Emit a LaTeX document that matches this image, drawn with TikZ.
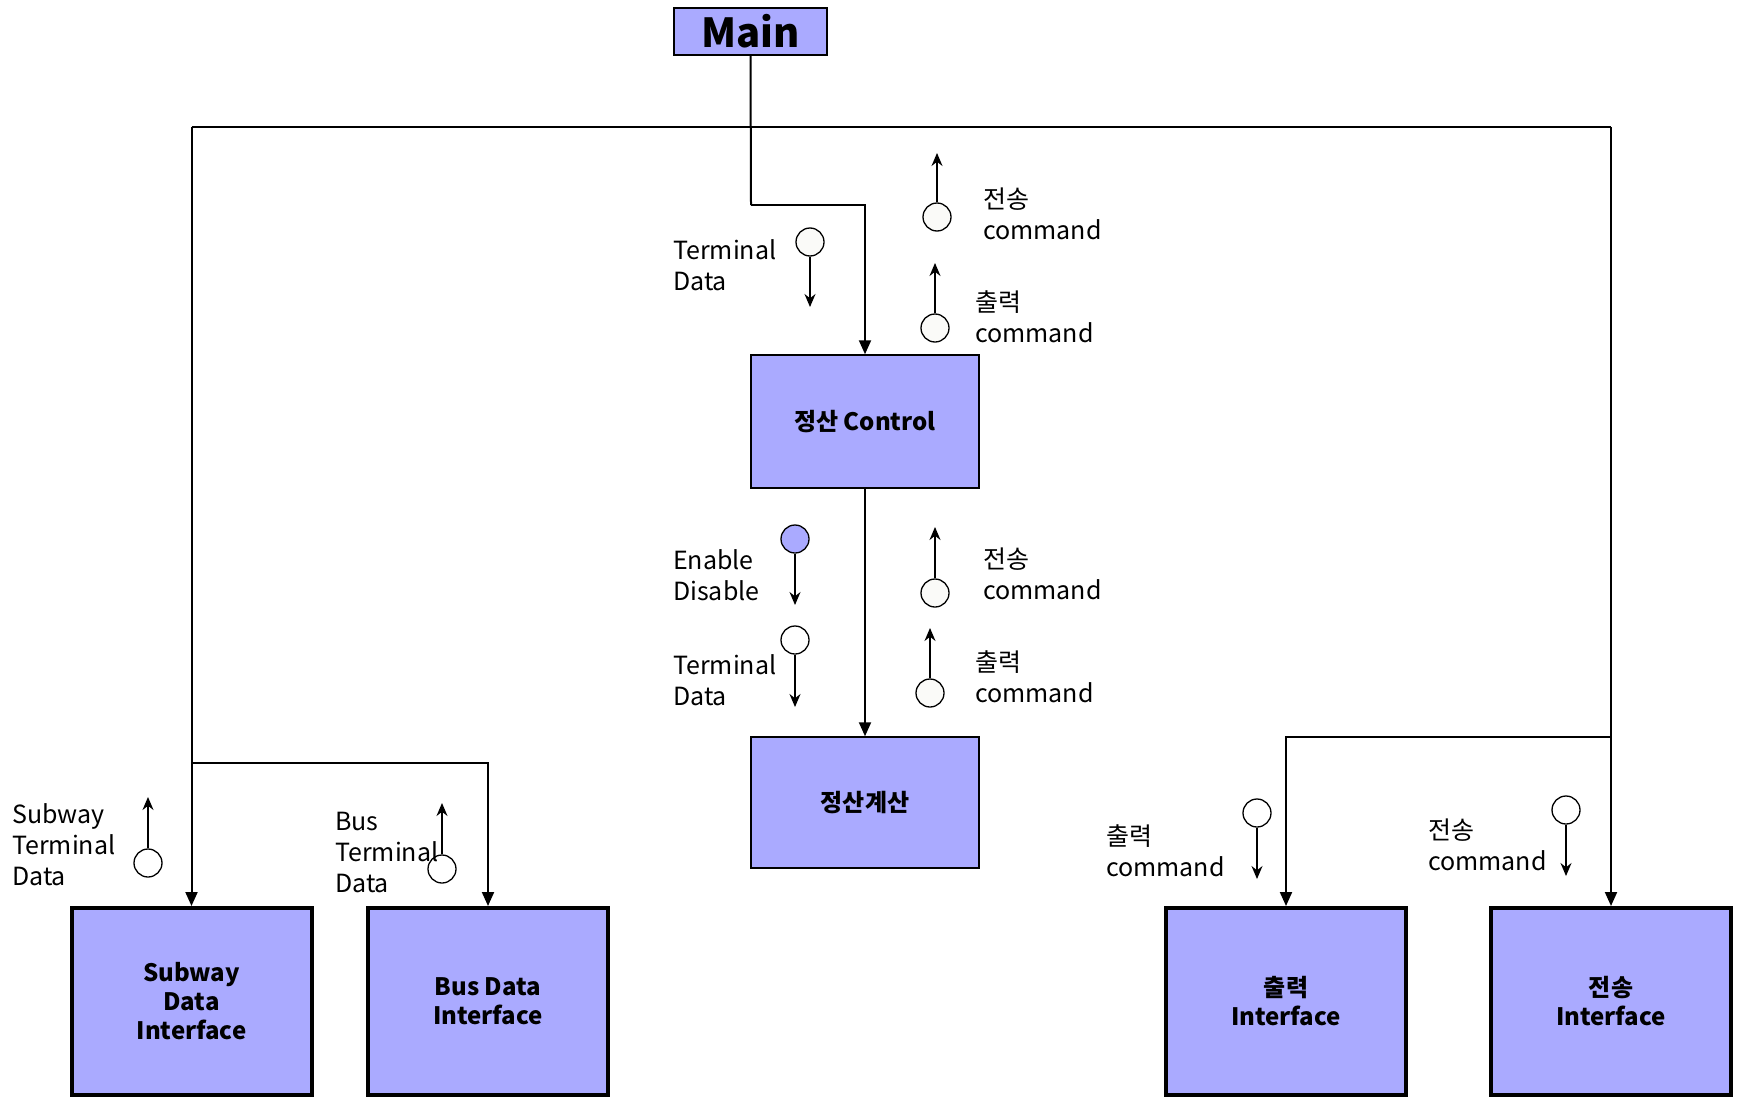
\documentclass[tikz,border=0pt]{standalone}
\usepackage{fontspec}
\setmainfont{Noto Sans CJK KR}
\usetikzlibrary{arrows.meta}

\definecolor{boxblue}{RGB}{170,170,255}
\definecolor{flagwhite}{RGB}{250,250,248}

\tikzset{
  box/.style={draw, fill=boxblue, line width=1.5pt, align=center, inner sep=0,
    font=\bfseries\fontsize{24}{29}\selectfont},
  midbox/.style={box, minimum width=228pt, minimum height=133pt},
  ifbox/.style={box, line width=4pt, minimum width=240pt, minimum height=187pt},
  flow/.style={line width=2pt, -{Triangle[length=14pt,width=12pt]}},
  flag/.style={circle, draw, line width=1.3pt, fill=flagwhite, minimum size=28pt, inner sep=0},
  flagarrow/.style={line width=1.3pt, -{Stealth[length=13pt,width=11pt]}},
  lbl/.style={anchor=west, align=left, inner sep=0, font=\fontsize{25}{31}\selectfont},
}

\begin{document}
\begin{tikzpicture}[x=1pt,y=-1pt]
\useasboundingbox (0,0) rectangle (1739,1097);
\clip (0,0) rectangle (1739,1097);

% modules
\node[box, minimum width=153pt, minimum height=47pt, font=\bfseries\fontsize{40}{44}\selectfont] (main) at (750.5,31.5) {Main};
\node[midbox] (ctrl) at (865,421.5) {정산 Control};
\node[midbox, minimum height=131pt] (calc) at (865,802.5) {정산계산};
\node[ifbox] (subway) at (191.5,1001.5) {Subway\\Data\\Interface};
\node[ifbox] (busif) at (488,1001.5) {Bus Data\\Interface};
\node[ifbox] (pcif) at (1286,1001.5) {출력\\Interface};
\node[ifbox] (txif) at (1611,1001.5) {전송\\Interface};

% call lines
\coordinate (topline) at (751,127);
\coordinate (jog) at (751,205);
\coordinate (leftsplit) at (191,763);
\coordinate (rightsplit) at (1611,737);
\draw[line width=2pt] (main.south) -- (jog);
\draw[flow] (jog) -| (ctrl.north);
\draw[line width=2pt] (subway.north |- topline) -- (txif.north |- topline);
\draw[flow] (subway.north |- topline) -- (subway.north);
\draw[flow] (txif.north |- topline) -- (txif.north);
\draw[flow] (subway.north |- leftsplit) -| (busif.north);
\draw[flow] (txif.north |- rightsplit) -| (pcif.north);
\draw[flow] (ctrl.south) -- (calc.north);

% data flags
\node[flag] (td1) at (810,242) {};
\coordinate (td1e) at (810,307);
\draw[flagarrow] (td1) -- (td1e);
\node[flag] (sc1) at (937,217) {};
\coordinate (sc1e) at (937,153);
\draw[flagarrow] (sc1) -- (sc1e);
\node[flag] (pc1) at (935,328) {};
\coordinate (pc1e) at (935,263);
\draw[flagarrow] (pc1) -- (pc1e);
\node[flag, fill=boxblue] (en) at (795,539) {};
\coordinate (ene) at (795,605);
\draw[flagarrow] (en) -- (ene);
\node[flag, fill=white] (td2) at (795,640) {};
\coordinate (td2e) at (795,707);
\draw[flagarrow] (td2) -- (td2e);
\node[flag] (sc2) at (935,593) {};
\coordinate (sc2e) at (935,527);
\draw[flagarrow] (sc2) -- (sc2e);
\node[flag] (pc2) at (930,693) {};
\coordinate (pc2e) at (930,628);
\draw[flagarrow] (pc2) -- (pc2e);
\node[flag, fill=white] (std) at (148,863) {};
\coordinate (stde) at (148,797);
\draw[flagarrow] (std) -- (stde);
\node[flag, fill=white] (btd) at (442,869) {};
\coordinate (btde) at (442,803);
\draw[flagarrow] (btd) -- (btde);
\node[flag, fill=white] (pc3) at (1257,813) {};
\coordinate (pc3e) at (1257,879);
\draw[flagarrow] (pc3) -- (pc3e);
\node[flag, fill=white] (sc3) at (1566,810) {};
\coordinate (sc3e) at (1566,876);
\draw[flagarrow] (sc3) -- (sc3e);

% flag labels
\node[lbl] (td1l) at (673,265) {Terminal\\Data};
\node[lbl] (sc1l) at (983,214) {전송\\command};
\node[lbl] (pc1l) at (975,317) {출력\\command};
\node[lbl] (enl) at (673,575) {Enable\\Disable};
\node[lbl] (td2l) at (673,680) {Terminal\\Data};
\node[lbl] (sc2l) at (983,574) {전송\\command};
\node[lbl] (pc2l) at (975,677) {출력\\command};
\node[lbl] (stdl) at (12,845) {Subway\\Terminal\\Data};
\node[lbl] (btdl) at (335,852) {Bus\\Terminal\\Data};
\node[lbl] (pc3l) at (1106,851) {출력\\command};
\node[lbl] (sc3l) at (1428,845) {전송\\command};
\end{tikzpicture}
\end{document}
